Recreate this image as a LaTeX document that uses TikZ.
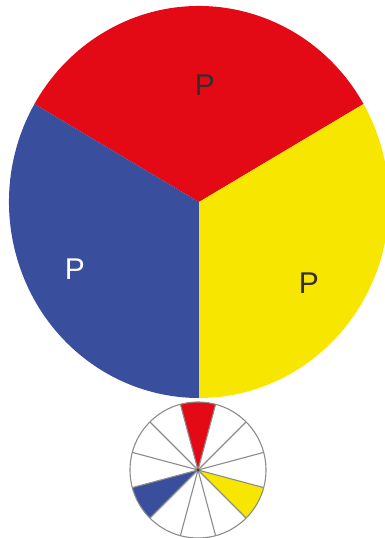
\documentclass[tikz,border=0pt]{standalone}
\usepackage{fontspec}
\setsansfont{Liberation Sans}
\usepackage{xcolor}
\definecolor{pred}{RGB}{227,10,22}
\definecolor{pblue}{RGB}{58,78,158}
\definecolor{pyellow}{RGB}{247,230,0}
\definecolor{ink}{RGB}{55,45,45}

\begin{document}
\begin{tikzpicture}[
  x=1pt, y=1pt, font=\sffamily\fontsize{30}{30}\selectfont,
  lbl/.style={inner sep=0pt, text=ink},
  spoke/.style={draw=black!45, line width=1.1pt}]
\useasboundingbox (0,0) rectangle (385,538);
\clip (0,0) rectangle (385,538);
\coordinate (big) at (199,336);
\coordinate (hub) at (198,68);
% big disc, three primaries
\fill[pred] (big) -- ++(30:190 and 196) arc[start angle=30, end angle=150, x radius=190, y radius=196] -- cycle;
\fill[pblue] (big) -- ++(150:190 and 196) arc[start angle=150, end angle=270, x radius=190, y radius=196] -- cycle;
\fill[pyellow] (big) -- ++(270:190 and 196) arc[start angle=270, end angle=390, x radius=190, y radius=196] -- cycle;
\node[lbl] (pr) at (205,453) {P};
\node[lbl, text=white] (pb) at (75,269) {P};
\node[lbl] (py) at (309,255) {P};
% small wheel, twelve parts
\fill[white] (hub) circle (68);
\fill[pred] (hub) -- ++(75:68) arc[start angle=75, end angle=105, radius=68] -- cycle;
\fill[pblue] (hub) -- ++(195:68) arc[start angle=195, end angle=225, radius=68] -- cycle;
\fill[pyellow] (hub) -- ++(-45:68) arc[start angle=-45, end angle=-15, radius=68] -- cycle;
\foreach \a in {15,45,...,345}
  \draw[spoke] (hub) -- ++(\a:68);
\draw[spoke] (hub) circle (68);
\fill[black!75] (hub) circle (1.6);
\end{tikzpicture}
\end{document}
